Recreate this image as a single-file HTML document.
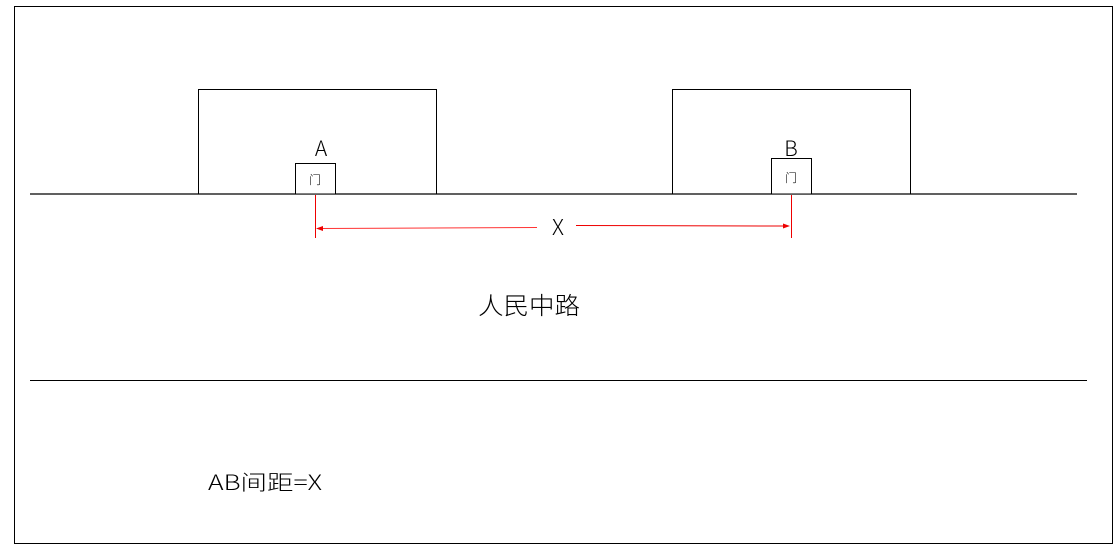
<!DOCTYPE html>
<html><head><meta charset="utf-8"><style>
body{margin:0;background:#fff;width:1119px;height:549px;overflow:hidden}
svg{display:block}
text{font-family:"Noto Sans CJK SC",sans-serif;fill:#000;font-weight:300}
</style></head><body>
<svg width="1119" height="549" viewBox="0 0 1119 549">
<rect x="14.5" y="6.5" width="1098" height="537" fill="none" stroke="#000" stroke-width="1"/>
<line x1="30" y1="194" x2="1077" y2="194" stroke="#000" stroke-width="1.3"/>
<line x1="30" y1="380.5" x2="1087" y2="380.5" stroke="#000" stroke-width="1"/>
<rect x="198.5" y="89.5" width="238" height="104.5" fill="none" stroke="#000"/>
<rect x="672.5" y="89.5" width="238" height="104.5" fill="none" stroke="#000"/>
<rect x="295.5" y="163.5" width="40" height="30.5" fill="#fff" stroke="#000"/>
<rect x="771.5" y="158.5" width="40" height="35.5" fill="#fff" stroke="#000"/>
<text x="315" y="184" font-size="12" text-anchor="middle" fill="#555">门</text>
<text x="791" y="182" font-size="12" text-anchor="middle" fill="#555">门</text>
<text x="321" y="156" font-size="21" text-anchor="middle">A</text>
<text x="791" y="156" font-size="21" text-anchor="middle">B</text>
<line x1="315.5" y1="195" x2="315.5" y2="238" stroke="#e00" stroke-width="1"/>
<line x1="791.5" y1="195" x2="791.5" y2="238" stroke="#e00" stroke-width="1"/>
<line x1="537" y1="227.5" x2="320" y2="228.5" stroke="#f33" stroke-width="1"/>
<polygon points="316,228.5 323,226 323,231" fill="#e00"/>
<line x1="576" y1="225.5" x2="785" y2="226" stroke="#e00" stroke-width="1"/>
<polygon points="790,226 783,223.5 783,228.5" fill="#e00"/>
<text x="558" y="235" font-size="22" text-anchor="middle">X</text>
<text x="478" y="314" font-size="24" textLength="102" lengthAdjust="spacingAndGlyphs">人民中路</text>
<text x="208" y="490" font-size="21" textLength="114" lengthAdjust="spacingAndGlyphs">AB间距=X</text>
</svg>
</body></html>
